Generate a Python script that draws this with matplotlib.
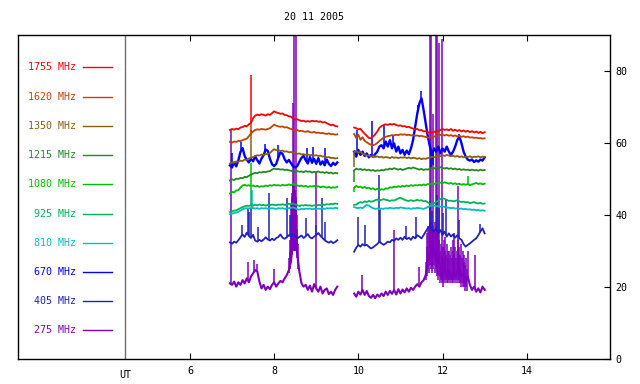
import numpy as np
import matplotlib.pyplot as plt

# time grid of the two observing segments (UT hours)
t_a = np.round(np.arange(6.95, 9.501, 0.05), 2)
t_b = np.round(np.arange(9.90, 13.001, 0.05), 2)

freqs = ['1755', '1620', '1350', '1215', '1080', '925', '810', '670', '405', '275']
colors = ['#ff0000', '#c84000', '#886010', '#208b20', '#00c000',
          '#00b45a', '#00c0c0', '#0000ff', '#2020c0', '#8000c0']

f1755_a = [63.6, 63.9, 63.7, 64.0, 63.8, 64.3, 64.4, 64.8, 64.6, 65.2,
           65.6, 66.9, 67.6, 67.9, 67.7, 68.0, 67.8, 67.6, 68.0, 67.8,
           68.3, 68.8, 68.5, 68.3, 68.1, 68.2, 67.8, 67.7, 67.4, 67.3,
           66.8, 66.5, 66.6, 66.3, 66.1, 66.2, 65.9, 66.1, 65.9, 66.2,
           66.0, 66.1, 65.9, 66.0, 65.7, 65.8, 65.5, 65.2, 64.9, 65.1,
           64.7, 64.6]
f1755_b = [64.3, 64.1, 63.8, 63.9, 63.2, 62.6, 62.0, 61.4, 61.3, 61.8,
           62.4, 63.2, 64.2, 64.7, 65.0, 65.2, 65.0, 65.3, 65.1, 65.3,
           65.0, 64.8, 64.9, 64.6, 64.7, 64.4, 64.5, 64.2, 64.0, 63.8,
           63.9, 63.5, 63.6, 63.2, 63.3, 62.9, 63.0, 62.8, 63.2, 62.9,
           63.4, 63.6, 63.9, 63.6, 63.8, 63.5, 63.9, 63.4, 63.7, 63.3,
           63.6, 63.2, 63.5, 63.1, 63.4, 63.0, 63.3, 62.9, 63.2, 62.8,
           63.1, 62.7, 63.0]

f1620_a = [60.3, 60.1, 60.4, 60.3, 60.6, 60.5, 60.8, 61.0, 61.2, 61.9,
           62.6, 63.2, 63.6, 63.8, 63.7, 63.9, 63.8, 63.7, 63.9, 64.1,
           64.6, 65.1, 64.8, 64.6, 64.5, 64.6, 64.3, 64.4, 64.1, 63.9,
           63.7, 63.5, 63.6, 63.3, 63.4, 63.2, 63.1, 63.3, 63.0, 62.9,
           63.1, 62.8, 62.9, 62.7, 62.8, 62.6, 62.5, 62.7, 62.4, 62.5,
           62.3, 62.4]
f1620_b = [62.5, 61.4, 62.3, 60.9, 61.6, 60.6, 60.2, 59.8, 59.5, 59.4,
           59.6, 60.0, 60.6, 61.0, 61.5, 61.7, 61.9, 62.0, 62.2, 62.1,
           62.3, 62.2, 62.4, 62.3, 62.4, 62.2, 62.3, 62.1, 62.2, 62.0,
           62.1, 61.9, 62.0, 61.8, 61.7, 61.5, 61.6, 61.4, 61.8, 62.0,
           62.3, 62.2, 62.4, 62.1, 62.3, 62.0, 62.2, 61.9, 62.1, 61.8,
           62.0, 61.7, 61.9, 61.6, 61.8, 61.5, 61.6, 61.4, 61.5, 61.3,
           61.4, 61.2, 61.3]

f1350_a = [54.3, 54.6, 54.5, 54.9, 54.8, 55.1, 55.0, 55.4, 55.3, 55.7,
           55.9, 56.1, 56.4, 56.6, 56.5, 56.8, 56.7, 56.9, 57.0, 57.2,
           57.8, 58.3, 58.0, 58.1, 57.8, 57.9, 57.6, 57.7, 57.4, 57.5,
           57.2, 57.3, 57.0, 57.1, 56.8, 56.9, 56.7, 56.8, 56.6, 56.7,
           56.5, 56.6, 56.4, 56.5, 56.2, 56.3, 56.0, 56.1, 55.8, 55.9,
           55.7, 55.8]
f1350_b = [57.4, 57.8, 57.3, 57.6, 57.0, 56.8, 56.5, 56.6, 56.2, 56.4,
           56.1, 56.3, 56.0, 56.2, 55.9, 56.1, 56.0, 55.8, 56.1, 55.9,
           56.0, 55.8, 56.0, 55.9, 56.1, 55.8, 56.0, 55.7, 55.9, 55.8,
           55.6, 55.8, 55.5, 55.7, 55.6, 55.8, 55.9, 56.2, 56.0, 56.3,
           56.5, 56.3, 56.6, 56.4, 56.7, 56.5, 56.3, 56.5, 56.2, 56.4,
           56.1, 56.3, 56.0, 56.2, 56.1, 56.3, 56.0, 56.2, 56.1, 56.3,
           56.0, 56.2, 56.1]

f1215_a = [49.6, 49.9, 49.7, 50.1, 50.0, 50.3, 50.2, 50.6, 50.5, 50.9,
           51.2, 51.5, 51.7, 51.6, 51.9, 51.8, 52.0, 51.9, 52.1, 52.2,
           52.6, 52.9, 52.7, 52.8, 52.6, 52.7, 52.5, 52.6, 52.4, 52.3,
           52.1, 51.9, 52.2, 52.0, 52.1, 51.9, 52.2, 52.0, 52.1, 51.8,
           52.0, 51.9, 52.1, 51.8, 51.9, 51.7, 51.9, 51.6, 51.8, 51.5,
           51.7, 51.6]
f1215_b = [52.4, 52.9, 52.6, 52.8, 52.5, 52.7, 52.4, 52.6, 52.3, 52.5,
           52.2, 52.4, 52.3, 52.5, 52.4, 52.7, 52.6, 52.9, 52.7, 53.0,
           52.8, 52.6, 52.8, 52.5, 52.7, 52.9, 53.1, 52.9, 53.2, 53.0,
           52.8, 52.6, 52.8, 52.5, 52.7, 52.6, 52.9, 53.1, 52.9, 53.2,
           53.0, 53.3, 53.1, 52.9, 53.1, 52.8, 53.0, 52.7, 52.9, 52.6,
           52.8, 52.5, 52.7, 52.5, 52.6, 52.4, 52.6, 52.4, 52.5, 52.3,
           52.6, 52.4, 52.5]

f1080_a = [46.0, 46.4, 46.3, 46.8, 46.9, 47.6, 48.2, 48.4, 48.1, 48.3,
           48.0, 48.2, 47.9, 48.1, 47.8, 48.0, 47.9, 48.2, 48.0, 48.3,
           48.1, 48.4, 48.2, 48.3, 48.1, 48.4, 48.2, 48.3, 48.5, 48.3,
           48.6, 48.4, 48.2, 48.0, 48.2, 47.9, 48.1, 47.8, 48.0, 47.9,
           48.1, 47.8, 48.0, 47.7, 47.9, 47.8, 47.6, 47.8, 47.5, 47.7,
           47.6, 47.8]
f1080_b = [47.6, 48.1, 47.7, 47.9, 47.5, 47.8, 47.4, 47.6, 47.2, 47.4,
           47.0, 47.3, 46.9, 47.2, 47.0, 47.4, 47.3, 47.7, 47.6, 47.9,
           47.7, 48.0, 47.8, 48.1, 47.9, 48.2, 48.0, 48.3, 48.1, 48.3,
           48.2, 48.4, 48.2, 48.5, 48.3, 48.6, 48.5, 48.8, 48.6, 48.9,
           48.7, 49.0, 48.8, 49.1, 48.9, 48.7, 48.9, 48.6, 48.8, 48.5,
           48.7, 48.4, 48.6, 48.4, 48.6, 48.3, 48.5, 48.7, 48.9, 48.6,
           48.8, 48.5, 48.7]

f925_a = [40.8, 41.0, 41.2, 41.3, 41.6, 41.9, 42.2, 42.4, 42.6, 42.5,
          42.7, 42.6, 42.8, 42.7, 42.9, 42.7, 42.8, 42.6, 42.8, 42.7,
          42.9, 42.8, 42.7, 42.9, 42.8, 43.0, 42.8, 42.9, 43.1, 43.0,
          43.2, 42.9, 42.7, 42.5, 42.7, 42.6, 42.8, 42.6, 42.7, 42.5,
          42.7, 42.6, 42.8, 42.7, 42.9, 42.8, 43.0, 42.9, 43.1, 43.0,
          43.2, 43.1]
f925_b = [42.8, 42.9, 43.3, 43.6, 43.4, 43.8, 43.6, 43.9, 43.7, 43.8,
          44.1, 44.3, 44.0, 44.2, 44.4, 44.2, 44.1, 43.9, 44.1, 44.0,
          44.3, 44.6, 44.8, 44.5, 44.2, 44.0, 43.9, 44.1, 43.9, 44.0,
          44.2, 44.0, 44.1, 43.8, 43.9, 43.5, 43.2, 43.0, 43.3, 43.6,
          44.0, 44.4, 44.6, 44.5, 44.2, 43.9, 44.0, 43.8, 43.9, 44.1,
          43.8, 43.6, 43.7, 43.5, 43.6, 43.3, 43.4, 43.6, 43.3, 43.2,
          43.4, 43.1, 43.2]

f810_a = [40.2, 40.4, 40.5, 40.7, 40.9, 41.2, 41.6, 41.8, 41.9, 41.8,
          42.0, 41.9, 41.8, 41.9, 41.7, 41.9, 41.8, 41.9, 41.7, 41.8,
          41.9, 41.8, 41.7, 41.9, 41.8, 41.9, 41.7, 41.8, 41.9, 42.0,
          42.1, 41.9, 41.6, 41.5, 41.7, 41.6, 41.8, 41.7, 41.8, 41.6,
          41.7, 41.6, 41.8, 41.7, 41.8, 41.7, 41.9, 41.8, 41.9, 41.8,
          42.0, 41.9]
f810_b = [42.2, 42.0, 41.9, 42.1, 41.9, 42.4, 42.8, 42.6, 42.2, 41.9,
          41.7, 41.8, 41.6, 41.8, 41.7, 41.9, 41.8, 42.0, 41.9, 41.8,
          42.0, 41.9, 42.1, 42.0, 41.9, 41.8, 41.9, 41.7, 41.9, 41.8,
          42.0, 41.9, 41.8, 41.7, 41.9, 42.2, 42.5, 42.7, 42.6, 42.4,
          42.5, 42.3, 42.4, 42.2, 42.1, 42.0, 41.9, 42.0, 41.8, 41.9,
          41.7, 41.8, 41.6, 41.7, 41.5, 41.6, 41.4, 41.5, 41.3, 41.4,
          41.2, 41.3, 41.2]

f670_a = [53.8, 53.2, 54.6, 53.5, 55.2, 57.5, 58.6, 56.4, 55.3, 54.6,
          55.6, 54.9, 56.3, 55.2, 54.3, 55.7, 56.6, 58.2, 57.8, 55.6,
          54.1, 53.6, 54.2, 56.0, 57.4, 57.0, 55.5, 54.6, 55.3, 54.4,
          53.5, 53.2, 53.6, 54.8, 55.9, 56.4, 55.2, 54.3, 56.1, 54.5,
          55.6, 54.2, 55.8, 54.0, 54.9, 53.8, 55.4, 54.2, 53.6, 54.5,
          53.9, 54.6]
f670_b = [57.6, 56.2, 58.1, 56.7, 57.6, 56.4, 57.1, 56.0, 56.7, 56.2,
          56.9, 57.6, 59.0, 59.4, 58.5, 60.4, 59.0, 60.8, 58.5, 59.9,
          57.6, 59.0, 57.1, 58.1, 56.7, 57.9, 56.9, 58.5, 60.8, 64.5,
          68.2, 71.0, 72.4, 69.2, 65.5, 61.8, 59.0, 56.7, 58.5, 57.6,
          59.0, 57.1, 58.5, 57.6, 59.0, 57.6, 56.7, 57.6, 59.0, 60.8,
          61.8, 59.9, 57.6, 56.2, 55.4, 55.1, 55.4, 54.7, 55.2, 54.8,
          55.4, 55.1, 56.0]

f405_a = [32.4, 32.0, 32.6, 32.3, 33.0, 33.8, 34.6, 33.9, 35.1, 34.2,
          33.6, 34.5, 32.9, 32.6, 33.1, 32.7, 33.2, 33.8, 33.2, 32.9,
          33.4, 33.0, 33.6, 33.9, 34.6, 33.7, 33.4, 33.8, 34.4, 34.0,
          34.8, 34.2, 33.5, 33.9, 34.3, 33.6, 34.1, 34.7, 33.8, 33.5,
          34.0, 34.4, 35.0, 34.2, 33.6, 33.0, 32.6, 32.3, 32.7, 32.2,
          32.5, 33.0]
f405_b = [29.8, 30.9, 31.7, 31.2, 31.9, 31.5, 31.7, 31.2, 30.7, 31.0,
          31.5, 31.9, 32.6, 32.1, 31.7, 32.1, 32.6, 32.4, 33.1, 32.8,
          33.5, 33.1, 33.7, 33.1, 34.0, 33.3, 33.7, 33.1, 34.0, 33.5,
          34.4, 34.0, 33.5, 34.4, 35.4, 36.3, 36.8, 35.8, 35.4, 36.3,
          34.9, 35.8, 34.4, 35.4, 34.0, 34.9, 34.0, 34.6, 33.7, 34.4,
          33.5, 33.1, 31.9, 31.2, 31.7, 32.1, 32.6, 33.1, 33.5, 34.4,
          35.4, 36.3, 34.9]

f275_a = [21.0, 20.6, 21.5, 20.1, 21.3, 20.6, 21.9, 21.0, 22.4, 21.3,
          22.9, 23.8, 24.7, 24.3, 21.5, 19.6, 20.6, 19.2, 20.1, 19.4,
          20.6, 21.3, 20.1, 21.0, 21.7, 21.3, 22.4, 23.3, 24.7, 27.0,
          33.0, 36.0, 29.0, 24.3, 21.0, 20.1, 20.6, 19.2, 20.4, 18.7,
          20.8, 19.6, 18.7, 20.1, 18.2, 19.2, 19.6, 18.0, 18.7, 17.8,
          19.2, 20.1]
f275_b = [18.2, 17.3, 18.7, 17.9, 19.2, 17.8, 18.9, 17.5, 17.0, 17.8,
          16.9, 17.9, 17.3, 18.2, 17.5, 18.7, 17.8, 18.9, 18.1, 19.2,
          17.9, 19.4, 18.2, 19.3, 18.5, 19.6, 18.7, 19.8, 19.2, 20.1,
          20.8, 20.1, 21.3, 21.9, 23.3, 27.0, 29.8, 27.9, 30.7, 27.0,
          28.8, 24.3, 22.4, 25.6, 22.9, 24.7, 22.4, 24.0, 22.9, 24.3,
          25.2, 22.9, 23.8, 21.5, 22.9, 20.6, 19.2, 20.1, 18.7, 19.6,
          18.5, 20.1, 19.2]

# short bursts / spikes (time, peak value)
sp1755_t = [7.45]
sp1755_v = [79.0]
sp1620_t = [7.46]
sp1620_v = [66.0]
sp1350_t = [7.46, 9.90]
sp1350_v = [63.5, 53.4]
sp1215_t = [9.90]
sp1215_v = [49.3]
sp1080_t = [7.46, 9.90, 12.61]
sp1080_v = [54.4, 46.5, 50.8]
sp925_t = [7.46]
sp925_v = [47.9]
sp810_t = [7.47]
sp810_v = [47.0]
sp670_t = [7.00, 7.22, 7.78, 8.09, 8.77, 8.92, 9.20,
           9.96, 10.32, 10.62, 10.82, 11.42, 11.48, 11.72, 11.78, 12.38]
sp670_v = [57.2, 60.3, 59.7, 59.4, 58.5, 59.0, 58.5,
           63.6, 66.0, 65.0, 62.0, 70.5, 74.5, 53.0, 54.0, 62.5]
sp405_t = [7.23, 7.37, 7.41, 7.46, 7.62, 7.88, 8.30, 8.38, 8.76, 8.99, 9.13, 9.21,
           10.00, 10.15, 10.49, 10.52, 11.14, 11.36, 11.70, 11.76, 11.86, 11.92,
           12.02, 12.08, 12.40, 12.90]
sp405_v = [37.2, 41.9, 40.9, 42.3, 36.8, 46.0, 44.6, 40.0, 39.1, 37.2, 44.6, 38.1,
           39.5, 37.2, 51.1, 41.9, 37.0, 39.5, 44.0, 41.0, 45.5, 42.0,
           40.5, 44.5, 38.5, 37.5]
sp275_t = [6.97, 7.38, 7.52, 7.60, 8.00, 8.44, 8.46, 8.51, 9.00,
           10.08, 10.84, 11.45, 11.70, 11.73, 11.77, 11.84, 11.86, 11.91, 11.99,
           12.06, 12.28, 12.37, 12.60, 12.77]
sp275_v = [63.5, 27.0, 27.5, 26.5, 25.0, 71.0, 95.0, 95.0, 52.0,
           23.3, 35.8, 25.5, 95.0, 95.0, 68.0, 95.0, 95.0, 87.9, 88.8,
           34.0, 35.0, 48.0, 30.0, 29.0]

# dense oscillation of the 275 MHz channel during the flares (time, low, high)
band_t = [8.36, 8.37, 8.38, 8.39, 8.40, 8.41, 8.42, 8.43, 8.44, 8.45, 8.46,
          8.47, 8.48, 8.49, 8.50, 8.51, 8.52, 8.53, 8.54, 8.55, 8.56, 8.57,
          11.60, 11.62, 11.64, 11.66, 11.68, 11.70, 11.72, 11.74, 11.76, 11.78,
          11.80, 11.82, 11.84, 11.86, 11.88, 11.90, 11.92, 11.94, 11.96, 11.98,
          12.00, 12.02, 12.04, 12.06, 12.08, 12.10, 12.12, 12.14, 12.16, 12.18,
          12.20, 12.22, 12.24, 12.26, 12.28, 12.30, 12.32, 12.34, 12.36, 12.38,
          12.40, 12.42, 12.44, 12.46, 12.48, 12.50, 12.52, 12.54, 12.56, 12.58]
band_lo = [24, 25, 26, 27, 28, 29, 29, 30, 30, 31, 30,
           31, 30, 31, 30, 31, 30, 30, 29, 28, 27, 25,
           22, 23, 24, 25, 24, 26, 25, 24, 26, 25,
           26, 24, 25, 23, 24, 22, 23, 21, 22, 21,
           20, 21, 22, 21, 22, 21, 22, 21, 22, 21,
           22, 21, 22, 21, 22, 21, 22, 21, 22, 21,
           22, 21, 20, 21, 20, 21, 20, 19, 20, 19]
band_hi = [28, 30, 33, 36, 40, 43, 45, 46, 47, 48, 47,
           48, 46, 47, 46, 45, 44, 42, 40, 36, 32, 28,
           27, 31, 35, 37, 36, 38, 34, 36, 38, 37,
           36, 38, 35, 37, 34, 36, 33, 30, 32, 29,
           28, 31, 33, 30, 29, 32, 30, 28, 30, 29,
           31, 28, 30, 33, 29, 31, 28, 30, 33, 29,
           31, 29, 32, 28, 30, 27, 29, 26, 28, 25]

ut_mark = 4.463

channels = [
    (f1755_a, f1755_b, sp1755_t, sp1755_v),
    (f1620_a, f1620_b, sp1620_t, sp1620_v),
    (f1350_a, f1350_b, sp1350_t, sp1350_v),
    (f1215_a, f1215_b, sp1215_t, sp1215_v),
    (f1080_a, f1080_b, sp1080_t, sp1080_v),
    (f925_a, f925_b, sp925_t, sp925_v),
    (f810_a, f810_b, sp810_t, sp810_v),
    (f670_a, f670_b, sp670_t, sp670_v),
    (f405_a, f405_b, sp405_t, sp405_v),
    (f275_a, f275_b, sp275_t, sp275_v),
]

plt.rcParams['font.family'] = 'DejaVu Sans Mono'
plt.rcParams['font.size'] = 7.2

fig = plt.figure(figsize=(6.4, 3.84), dpi=100)
ax = fig.add_axes([0.028, 0.0651, 0.925, 0.8438])

# draw low frequencies first so the high ones sit on top
for i in range(len(channels) - 1, -1, -1):
    va, vb, st, sv = channels[i]
    c = colors[i]
    lw = {'670': 1.7, '275': 1.5}.get(freqs[i], 1.3)
    ax.plot(t_a, va, color=c, lw=lw)
    ax.plot(t_b, vb, color=c, lw=lw)
    tt = np.concatenate([t_a, t_b])
    vv = np.concatenate([va, vb])
    base = np.interp(st, tt, vv)
    ax.vlines(st, base, sv, color=c, lw=1.1)
    if freqs[i] == '275':
        ax.vlines(band_t, band_lo, band_hi, color=c, lw=1.1)

ax.axvline(ut_mark, color='#707070', lw=1.0)

ax.set_xlim(1.914, 15.976)
ax.set_ylim(0, 90)
ax.set_xticks([6, 8, 10, 12, 14])
ax.set_yticks([0, 20, 40, 60, 80])
ax.yaxis.tick_right()
ax.tick_params(axis='x', direction='in', top=True, bottom=True, length=4, pad=5)
ax.tick_params(axis='y', direction='in', left=False, right=True, length=4, pad=4)
for s in ax.spines.values():
    s.set_linewidth(1.0)

ax.text(ut_mark, -0.035, 'UT', transform=ax.get_xaxis_transform(),
        ha='center', va='top')

# legend on the left
for i, f in enumerate(freqs):
    y = 0.90 - 0.0902 * i
    ax.text(0.098, y, f + ' MHz', color=colors[i], transform=ax.transAxes,
            ha='right', va='center')
    ax.plot([0.1098, 0.1588], [y, y], color=colors[i], lw=1.0,
            transform=ax.transAxes, clip_on=False)

fig.text(0.49, 1 - 17 / 384, '20 11 2005', ha='center', va='center')

fig.savefig('out.png', dpi=100)
